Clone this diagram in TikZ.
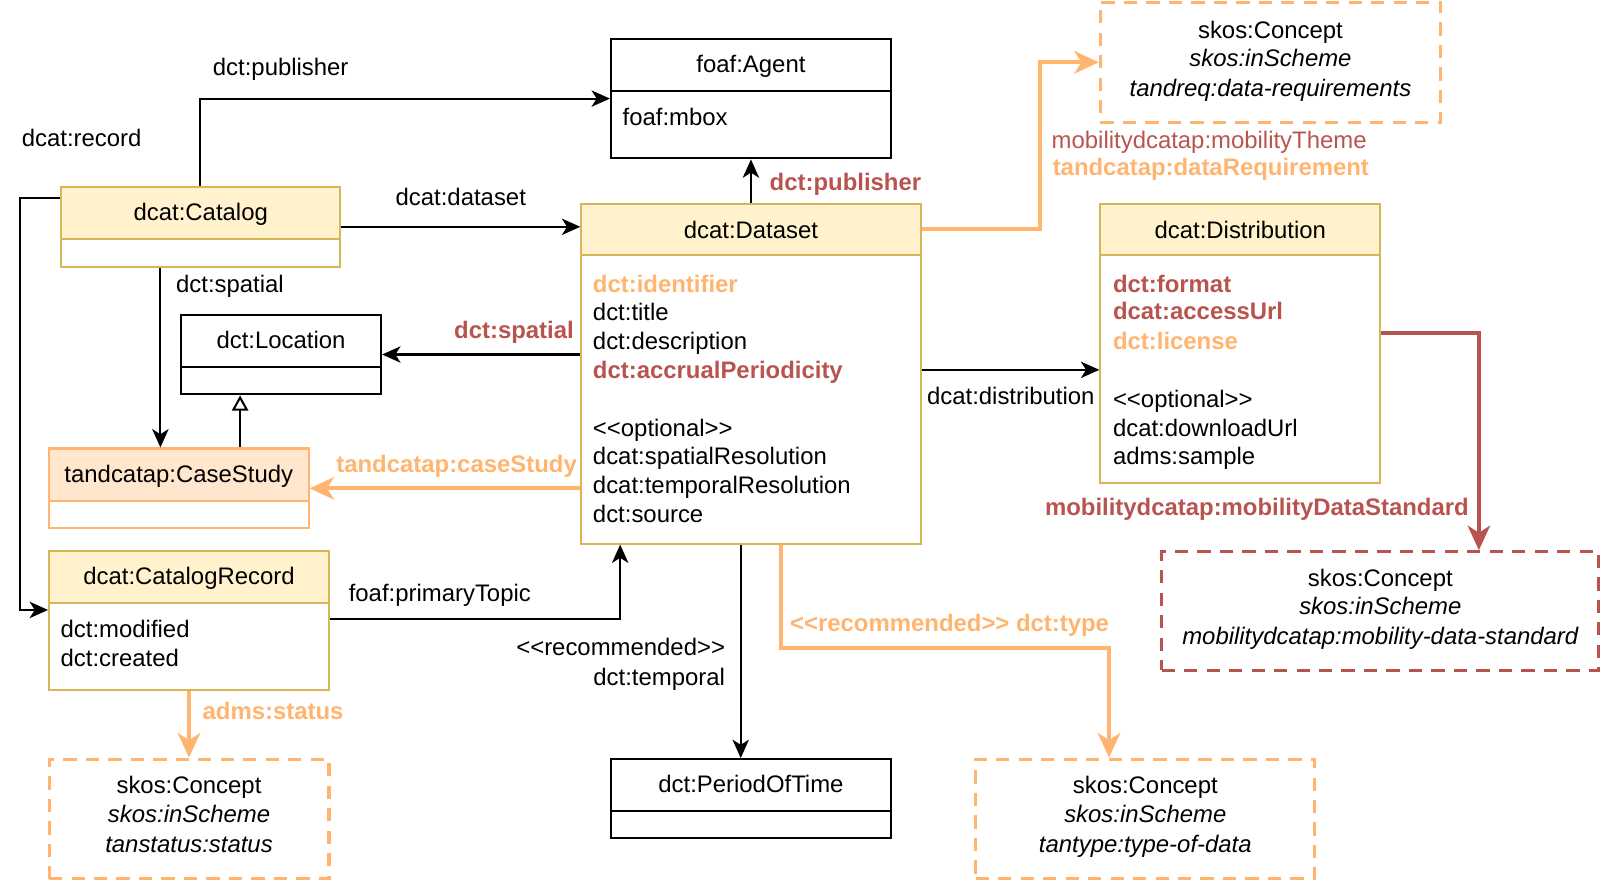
\documentclass[tikz,border=0pt]{standalone}
\usepackage{fontspec}
\setmainfont{Liberation Sans}
\usetikzlibrary{arrows.meta,calc,fit}
\definecolor{yfill}{HTML}{FFF2CC}
\definecolor{yline}{HTML}{D6B656}
\definecolor{orng}{HTML}{FFB570}
\definecolor{redd}{HTML}{B85450}
\definecolor{cfill}{HTML}{FFE6CC}
\newcommand\dlt{\mbox{<}\mbox{<}}
\newcommand\dgt{\mbox{>}\mbox{>}}
\begin{document}
\begin{tikzpicture}[x=0.5pt,y=-0.5pt,
  every node/.style={font=\fontsize{11.7pt}{14pt}\selectfont, inner sep=0pt},
  bbox/.style={draw=black, line width=1pt, inner sep=0pt},
  ybox/.style={draw=yline, line width=1pt, inner sep=0pt},
  obox/.style={draw=orng, line width=1pt, inner sep=0pt},
  odash/.style={draw=orng, line width=1.5pt, dash pattern=on 6.5pt off 4.5pt, inner sep=0pt},
  rdash/.style={draw=redd, line width=1.5pt, dash pattern=on 6.5pt off 4.5pt, inner sep=0pt},
  ttl/.style={anchor=base},
  att/.style={anchor=base west},
  ob/.style={text=orng, font=\fontsize{11.7pt}{14pt}\selectfont\bfseries},
  rb/.style={text=redd, font=\fontsize{11.7pt}{14pt}\selectfont\bfseries},
  conn/.style={draw=black, line width=1pt, -{Stealth[length=9pt,width=8pt,inset=2.5pt]}},
  oconn/.style={draw=orng, line width=2pt, -{Stealth[length=12pt,width=11pt,inset=3.5pt]}},
  rconn/.style={draw=redd, line width=2pt, -{Stealth[length=12pt,width=11pt,inset=3.5pt]}},
  gen/.style={draw=black, line width=1pt, -{Triangle[open,length=7.5pt,width=8pt,fill=white]}}
]
\useasboundingbox (0,0) rectangle (1568,865);

% foaf:Agent
\node[bbox, fit={(598,38)(872,155)}] (agent) {};
\draw[line width=1pt] (598,89) -- (872,89);
\node[ttl] (agent-t) at (735,71) {foaf:Agent};
\node[att] (agent-a) at (609,123) {foaf:mbox};

% dcat:Catalog
\fill[yfill] (60,183) rectangle (333,234);
\node[ybox, fit={(60,183)(333,261)}] (cat) {};
\draw[yline, line width=1pt] (60,234) -- (333,234);
\node[ttl] (cat-t) at (196.5,216) {dcat:Catalog};

% dcat:Dataset
\fill[yfill] (569,200) rectangle (901,250);
\node[ybox, fit={(569,200)(901,532)}] (ds) {};
\draw[yline, line width=1pt] (569,250) -- (901,250);
\node[ttl] (ds-t) at (735,233) {dcat:Dataset};
\node[att, ob] (ds-a1) at (580,286) {dct:identifier};
\node[att] (ds-a2) at (580,314) {dct:title};
\node[att] (ds-a3) at (580,342) {dct:description};
\node[att, rb] (ds-a4) at (580,370) {dct:accrualPeriodicity};
\node[att] (ds-a5) at (580,427) {\dlt optional\dgt};
\node[att] (ds-a6) at (580,455) {dcat:spatialResolution};
\node[att] (ds-a7) at (580,483) {dcat:temporalResolution};
\node[att] (ds-a8) at (580,511) {dct:source};

% dcat:Distribution
\fill[yfill] (1077,200) rectangle (1351,250);
\node[ybox, fit={(1077,200)(1351,473)}] (dist) {};
\draw[yline, line width=1pt] (1077,250) -- (1351,250);
\node[ttl] (dist-t) at (1214,233) {dcat:Distribution};
\node[att, rb] (dist-a1) at (1089,286) {dct:format};
\node[att, rb] (dist-a2) at (1089,313) {dcat:accessUrl};
\node[att, ob] (dist-a3) at (1089,342) {dct:license};
\node[att] (dist-a4) at (1089,399) {\dlt optional\dgt};
\node[att] (dist-a5) at (1089,427) {dcat:downloadUrl};
\node[att] (dist-a6) at (1089,455) {adms:sample};

% dct:Location
\node[bbox, fit={(177,308)(373,386)}] (loc) {};
\draw[line width=1pt] (177,359) -- (373,359);
\node[ttl] (loc-t) at (275,341) {dct:Location};

% tandcatap:CaseStudy
\fill[cfill] (48,439) rectangle (302,490);
\node[obox, fit={(48,439)(302,517)}] (cs) {};
\draw[orng, line width=1pt] (48,490) -- (302,490);
\node[ttl] (cs-t) at (175,472) {tandcatap:CaseStudy};

% dcat:CatalogRecord
\fill[yfill] (48,539) rectangle (322,590);
\node[ybox, fit={(48,539)(322,675)}] (rec) {};
\draw[yline, line width=1pt] (48,590) -- (322,590);
\node[ttl] (rec-t) at (185,572) {dcat:CatalogRecord};
\node[att] (rec-a1) at (59,624) {dct:modified};
\node[att] (rec-a2) at (59,652) {dct:created};

% dct:PeriodOfTime
\node[bbox, fit={(598,743)(872,820)}] (pot) {};
\draw[line width=1pt] (598,794) -- (872,794);
\node[ttl] (pot-t) at (735,776) {dct:PeriodOfTime};

% Concept boxes
\node[odash, fit={(1077,2)(1410,120)}] (c1) {};
\node[ttl] (c1-a) at (1243.5,38) {skos:Concept};
\node[ttl] (c1-b) at (1243.5,65) {\itshape skos:inScheme};
\node[ttl] (c1-c) at (1243.5,94) {\itshape tandreq:data-requirements};

\node[rdash, fit={(1137,540)(1565,656)}] (c2) {};
\node[ttl] (c2-a) at (1351,574) {skos:Concept};
\node[ttl] (c2-b) at (1351,601) {\itshape skos:inScheme};
\node[ttl] (c2-c) at (1351,631) {\itshape mobilitydcatap:mobility-data-standard};

\node[odash, fit={(48,743)(322,860)}] (c3) {};
\node[ttl] (c3-a) at (185,777) {skos:Concept};
\node[ttl] (c3-b) at (185,805) {\itshape skos:inScheme};
\node[ttl] (c3-c) at (185,834) {\itshape tanstatus:status};

\node[odash, fit={(955,743)(1287,860)}] (c4) {};
\node[ttl] (c4-a) at (1121,777) {skos:Concept};
\node[ttl] (c4-b) at (1121,805) {\itshape skos:inScheme};
\node[ttl] (c4-c) at (1121,834) {\itshape tantype:type-of-data};

% Connectors
\draw[conn] ($(cat.north west)+(137,0)$) |- (agent.west);
\node[att] (l-pub) at (208,74) {dct:publisher};

\draw[conn] (cat.east) -- (cat.east -| ds.west);
\node[ttl] (l-dataset) at (451,201) {dcat:dataset};

\draw[conn] ($(cat.north west)+(0,12)$) -- ++(-39,0) |- ($(rec.north west)+(0,59)$);
\node[att] (l-record) at (21,143) {dcat:record};

\draw[conn] ($(cat.south west)+(98,0)$) coordinate (sp1) -- (sp1 |- cs.north);
\node[att] (l-spatial1) at (172,286) {dct:spatial};

\draw[gen] ($(cs.north west)+(188,0)$) coordinate (g1) -- (g1 |- loc.south);

\draw[conn] (loc.east -| ds.west) -- (loc.east);
\node[anchor=base east, rb] (l-spatial2) at (562,331) {dct:spatial};

\draw[oconn] (cs.east -| ds.west) -- (cs.east);
\node[anchor=base east, ob] (l-case) at (565,462) {tandcatap:caseStudy};

\draw[conn] (ds.north) -- (agent.south);
\node[att, rb] (l-pub2) at (753,186) {dct:publisher};

\draw[oconn] ($(ds.north east)+(0,25)$) -| ($(c1.west)+(-58,0)$) -- (c1.west);
\node[att, text=redd] (l-theme) at (1029,145) {mobilitydcatap:mobilityTheme};
\node[att, ob] (l-req) at (1030,172) {tandcatap:dataRequirement};

\draw[conn] ($(dist.north west)+(0,163)$) coordinate (d1) (d1 -| ds.east) -- (d1);
\node[att] (l-dist) at (907,396) {dcat:distribution};

\draw[rconn] ($(dist.north east)+(0,127)$) -| ($(c2.north west)+(312,0)$);
\node[anchor=base east, rb] (l-mds) at (1438,505) {mobilitydcatap:mobilityDataStandard};

\draw[conn] ($(rec.north east)+(0,68)$) -| ($(ds.south west)+(39,0)$);
\node[att] (l-topic) at (341,589) {foaf:primaryTopic};

\draw[conn] ($(ds.south west)+(157,0)$) coordinate (t1) -- (t1 |- pot.north);
\node[anchor=base east] (l-rec1) at (710,642) {\dlt recommended\dgt};
\node[anchor=base east] (l-temp) at (710,671) {dct:temporal};

\draw[oconn] ($(ds.south west)+(196,0)$) |- ($(c4.north west)+(132,-107)$) -- ($(c4.north west)+(132,0)$);
\node[att, ob] (l-type) at (773,618) {\dlt recommended\dgt{} dct:type};

\draw[oconn] (rec.south) -- (c3.north);
\node[att, ob] (l-status) at (198,704) {adms:status};
\end{tikzpicture}
\end{document}
